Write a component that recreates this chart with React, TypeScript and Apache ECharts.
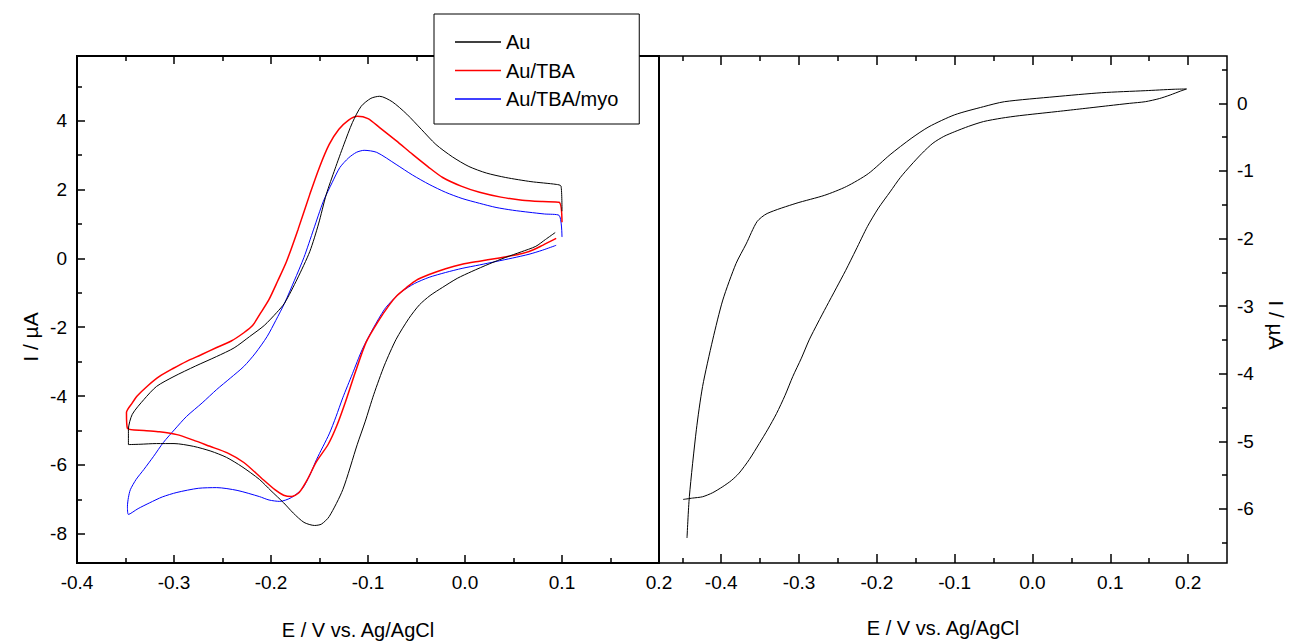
import React, { useEffect, useRef } from "react";
import * as echarts from "echarts";

const FONT = "'Liberation Sans', Arial, Helvetica, sans-serif";

// ---- legend / series names ----
const seriesNames = ["Au", "Au/TBA", "Au/TBA/myo"];
const seriesColors = ["#000000", "#ff0000", "#0000ff"];
const seriesWidths = [1, 1.5, 1];

// ---- axis ticks ----
const leftXMajor = [-0.4, -0.3, -0.2, -0.1, 0.0, 0.1, 0.2];
const leftXMinor = [-0.35, -0.25, -0.15, -0.05, 0.05, 0.15];
const leftYMajor = [-8, -6, -4, -2, 0, 2, 4];
const leftYMinor = [-7, -5, -3, -1, 1, 3, 5];
const rightXMajor = [-0.4, -0.3, -0.2, -0.1, 0.0, 0.1, 0.2];
const rightXMinor = [-0.45, -0.35, -0.25, -0.15, -0.05, 0.05, 0.15];
const rightYMajor = [-6, -5, -4, -3, -2, -1, 0];
const rightYMinor = [-6.5, -5.5, -4.5, -3.5, -2.5, -1.5, -0.5, 0.5];

// ---- data: [E (V), I (uA)] ----
const auCurve = [
  [0.093, 0.75], [0.083, 0.55], [0.073, 0.35], [0.058, 0.19], [0.042, 0.03],
  [0.025, -0.16], [0.007, -0.38], [-0.008, -0.58], [-0.023, -0.84], [-0.036, -1.08],
  [-0.047, -1.35], [-0.058, -1.75], [-0.071, -2.35], [-0.083, -3.1], [-0.094, -3.95],
  [-0.103, -4.75], [-0.111, -5.4], [-0.126, -6.72], [-0.14, -7.5], [-0.148, -7.72],
  [-0.155, -7.76], [-0.166, -7.67], [-0.177, -7.4], [-0.187, -7.1], [-0.2, -6.75],
  [-0.212, -6.42], [-0.23, -6.05], [-0.246, -5.78], [-0.262, -5.6], [-0.28, -5.46],
  [-0.3, -5.38], [-0.318, -5.38], [-0.335, -5.4], [-0.347, -5.41], [-0.347, -4.97],
  [-0.343, -4.53], [-0.331, -4.1], [-0.318, -3.72], [-0.3, -3.43], [-0.278, -3.13],
  [-0.256, -2.85], [-0.238, -2.6], [-0.222, -2.27], [-0.207, -1.95], [-0.194, -1.57],
  [-0.186, -1.3], [-0.173, -0.6], [-0.16, 0.2], [-0.151, 1.0], [-0.143, 1.86],
  [-0.134, 2.6], [-0.125, 3.3], [-0.116, 3.95], [-0.107, 4.42], [-0.097, 4.65],
  [-0.088, 4.71], [-0.075, 4.55], [-0.06, 4.19], [-0.045, 3.75], [-0.03, 3.31],
  [-0.013, 2.95], [0.004, 2.67], [0.022, 2.48], [0.042, 2.35], [0.068, 2.23],
  [0.094, 2.15], [0.099, 2.1], [0.1, 1.37],
];

const auTbaCurve = [
  [0.094, 0.58], [0.08, 0.38], [0.066, 0.2], [0.049, 0.08], [0.032, 0.0],
  [0.015, -0.08], [-0.003, -0.17], [-0.02, -0.3], [-0.037, -0.47], [-0.05, -0.63],
  [-0.06, -0.84], [-0.07, -1.08], [-0.078, -1.35], [-0.09, -1.85], [-0.102, -2.44],
  [-0.113, -3.3], [-0.123, -4.15], [-0.132, -4.85], [-0.141, -5.4], [-0.153, -5.9],
  [-0.163, -6.45], [-0.171, -6.8], [-0.179, -6.92], [-0.187, -6.88], [-0.196, -6.72],
  [-0.21, -6.38], [-0.228, -5.93], [-0.245, -5.65], [-0.263, -5.46], [-0.28, -5.28],
  [-0.297, -5.12], [-0.315, -5.04], [-0.331, -5.0], [-0.348, -4.94], [-0.349, -4.48],
  [-0.343, -4.2], [-0.338, -4.0], [-0.327, -3.7], [-0.315, -3.43], [-0.301, -3.2],
  [-0.287, -2.99], [-0.272, -2.8], [-0.256, -2.59], [-0.241, -2.4], [-0.228, -2.16],
  [-0.219, -1.95], [-0.211, -1.6], [-0.202, -1.19], [-0.193, -0.65], [-0.184, -0.09],
  [-0.172, 0.85], [-0.16, 1.86], [-0.15, 2.65], [-0.14, 3.31], [-0.13, 3.75],
  [-0.12, 4.02], [-0.111, 4.13], [-0.1, 4.06], [-0.088, 3.8], [-0.071, 3.42],
  [-0.054, 3.02], [-0.038, 2.66], [-0.023, 2.35], [-0.004, 2.1], [0.015, 1.92],
  [0.037, 1.78], [0.059, 1.69], [0.08, 1.65], [0.097, 1.63], [0.1, 1.05],
];

const auTbaMyoCurve = [
  [0.094, 0.38], [0.08, 0.24], [0.066, 0.12], [0.049, 0.01], [0.032, -0.09],
  [0.015, -0.19], [-0.003, -0.29], [-0.02, -0.41], [-0.037, -0.55], [-0.052, -0.73],
  [-0.065, -0.96], [-0.075, -1.22], [-0.083, -1.48], [-0.094, -2.0], [-0.106, -2.65],
  [-0.116, -3.35], [-0.126, -4.05], [-0.133, -4.6], [-0.14, -5.1], [-0.153, -5.84],
  [-0.16, -6.3], [-0.168, -6.7], [-0.179, -6.95], [-0.191, -7.06], [-0.202, -7.02],
  [-0.212, -6.92], [-0.235, -6.74], [-0.256, -6.66], [-0.275, -6.68], [-0.297, -6.8],
  [-0.312, -6.93], [-0.325, -7.1], [-0.337, -7.27], [-0.347, -7.44], [-0.348, -7.2],
  [-0.347, -6.95], [-0.345, -6.72], [-0.339, -6.42], [-0.331, -6.13], [-0.321, -5.75],
  [-0.311, -5.35], [-0.299, -4.96], [-0.287, -4.59], [-0.271, -4.2], [-0.256, -3.81],
  [-0.242, -3.48], [-0.228, -3.14], [-0.216, -2.75], [-0.204, -2.27], [-0.195, -1.8],
  [-0.186, -1.3], [-0.176, -0.65], [-0.166, 0.03], [-0.156, 0.85], [-0.146, 1.66],
  [-0.137, 2.2], [-0.129, 2.64], [-0.12, 2.92], [-0.112, 3.08], [-0.104, 3.14],
  [-0.091, 3.08], [-0.071, 2.73], [-0.054, 2.42], [-0.037, 2.15], [-0.02, 1.92],
  [-0.003, 1.74], [0.015, 1.6], [0.032, 1.48], [0.049, 1.4], [0.066, 1.34],
  [0.082, 1.29], [0.097, 1.25], [0.1, 0.62],
];

const rightCurve = [
  [-0.449, -5.86], [-0.437, -5.84], [-0.424, -5.82], [-0.411, -5.76], [-0.398, -5.67],
  [-0.387, -5.58], [-0.377, -5.47], [-0.364, -5.27], [-0.351, -5.03], [-0.34, -4.82],
  [-0.329, -4.59], [-0.318, -4.32], [-0.308, -4.04], [-0.297, -3.77], [-0.287, -3.5],
  [-0.276, -3.25], [-0.265, -3.01], [-0.252, -2.73], [-0.24, -2.47], [-0.227, -2.17],
  [-0.212, -1.82], [-0.198, -1.55], [-0.183, -1.31], [-0.17, -1.1], [-0.156, -0.913],
  [-0.142, -0.74], [-0.128, -0.59], [-0.114, -0.49], [-0.1, -0.42], [-0.082, -0.34],
  [-0.063, -0.27], [-0.04, -0.22], [-0.017, -0.183], [0.029, -0.125], [0.06, -0.085],
  [0.098, -0.035], [0.125, 0.0], [0.145, 0.024], [0.163, 0.07], [0.177, 0.123],
  [0.19, 0.18], [0.198, 0.212], [0.182, 0.208], [0.145, 0.187], [0.089, 0.157],
  [0.029, 0.098], [-0.036, 0.024], [-0.063, -0.05], [-0.1, -0.17], [-0.133, -0.346],
  [-0.156, -0.52], [-0.183, -0.76], [-0.211, -1.04], [-0.239, -1.23], [-0.267, -1.36],
  [-0.304, -1.48], [-0.341, -1.63], [-0.354, -1.75], [-0.368, -2.08], [-0.381, -2.37],
  [-0.398, -2.91], [-0.411, -3.5], [-0.424, -4.19], [-0.432, -4.83], [-0.441, -5.82],
  [-0.444, -6.43],
];

const leftCurves = [auCurve, auTbaCurve, auTbaMyoCurve];

const tickStyle = { color: "#000", width: 1.5 };
const labelStyle = { color: "#000", fontSize: 19, fontFamily: FONT };

function tickAxis(extra: any, values: number[], len: number, labels: boolean, fmt?: (v: number) => string) {
  return {
    type: "value",
    scale: false,
    axisLine: { show: false, onZero: false },
    splitLine: { show: false },
    axisTick: { show: true, inside: true, length: len, customValues: values, lineStyle: tickStyle },
    axisLabel: labels
      ? { show: true, customValues: values, formatter: fmt, margin: 10, hideOverlap: false, ...labelStyle }
      : { show: false },
    ...extra,
  };
}

const fmtX = (v: number) => v.toFixed(1);
const fmtY = (v: number) => String(Math.round(v));

export default function App() {
  const ref = useRef<HTMLDivElement>(null);
  useEffect(() => {
    if (!ref.current) return;
    const chart = echarts.init(ref.current, undefined, { renderer: "svg" });
    const lx = { min: -0.4, max: 0.2 };
    const ly = { min: -8.85, max: 5.88 };
    const rx = { min: -0.48, max: 0.25 };
    const ry = { min: -6.8, max: 0.7 };
    const option: any = {
      animation: false,
      backgroundColor: "#fff",
      grid: [
        { left: 77, top: 56, width: 582, height: 507, show: true, borderColor: "#000", borderWidth: 2, backgroundColor: "transparent" },
        { left: 659, top: 56, width: 568, height: 507, show: true, borderColor: "#000", borderWidth: 1.5, backgroundColor: "transparent" },
      ],
      xAxis: [
        tickAxis({ gridIndex: 0, position: "bottom", ...lx }, leftXMajor, 8, true, fmtX),
        tickAxis({ gridIndex: 0, position: "bottom", ...lx }, leftXMinor, 5, false),
        tickAxis({ gridIndex: 0, position: "top", ...lx }, leftXMajor, 8, false),
        tickAxis({ gridIndex: 0, position: "top", ...lx }, leftXMinor, 5, false),
        tickAxis({ gridIndex: 1, position: "bottom", ...rx }, rightXMajor, 9, true, fmtX),
        tickAxis({ gridIndex: 1, position: "bottom", ...rx }, rightXMinor, 5, false),
        tickAxis({ gridIndex: 1, position: "top", ...rx }, rightXMajor, 9, false),
        tickAxis({ gridIndex: 1, position: "top", ...rx }, rightXMinor, 5, false),
      ],
      yAxis: [
        tickAxis({ gridIndex: 0, position: "left", ...ly }, leftYMajor, 8, true, fmtY),
        tickAxis({ gridIndex: 0, position: "left", ...ly }, leftYMinor, 5, false),
        tickAxis({ gridIndex: 1, position: "right", ...ry }, rightYMajor, 8, true, fmtY),
        tickAxis({ gridIndex: 1, position: "right", ...ry }, rightYMinor, 5, false),
      ],
      legend: {
        data: seriesNames,
        orient: "vertical",
        left: 434,
        top: 14,
        icon: "rect",
        itemWidth: 46,
        itemHeight: 1.3,
        itemGap: 8.5,
        padding: [18, 21, 15, 21],
        backgroundColor: "#fff",
        borderColor: "#000",
        borderWidth: 1,
        borderRadius: 0,
        selectedMode: false,
        textStyle: { color: "#000", fontSize: 20, fontFamily: FONT },
      },
      series: [
        ...leftCurves.map((d, i) => ({
          name: seriesNames[i],
          type: "line",
          xAxisIndex: 0,
          yAxisIndex: 0,
          data: d,
          symbol: "none",
          smooth: 0.25,
          lineStyle: { color: seriesColors[i], width: seriesWidths[i] },
          itemStyle: { color: seriesColors[i] },
          z: 3 - i,
        })),
        {
          name: "right",
          type: "line",
          xAxisIndex: 4,
          yAxisIndex: 2,
          data: rightCurve,
          symbol: "none",
          smooth: 0.25,
          lineStyle: { color: "#000", width: 1 },
          itemStyle: { color: "#000" },
        },
      ],
      graphic: [
        { type: "text", x: 358, y: 630, style: { text: "E / V vs. Ag/AgCl", fill: "#000", font: `20px ${FONT}`, align: "center", verticalAlign: "middle" } },
        { type: "text", x: 943, y: 628, style: { text: "E / V vs. Ag/AgCl", fill: "#000", font: `20px ${FONT}`, align: "center", verticalAlign: "middle" } },
        { type: "text", x: 30, y: 337, rotation: Math.PI / 2, style: { text: "I / µA", fill: "#000", font: `21px ${FONT}`, align: "center", verticalAlign: "middle" } },
        { type: "text", x: 1276, y: 325, rotation: -Math.PI / 2, style: { text: "I / µA", fill: "#000", font: `21px ${FONT}`, align: "center", verticalAlign: "middle" } },
      ],
    };
    chart.setOption(option);
    return () => chart.dispose();
  }, []);
  return <div ref={ref} style={{ position: "fixed", left: 0, top: 0, width: 1291, height: 642 }} />;
}
